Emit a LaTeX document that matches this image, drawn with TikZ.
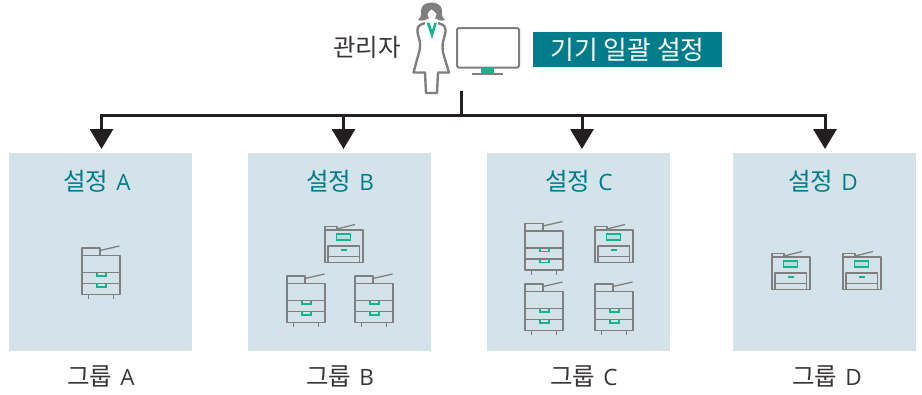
\documentclass[tikz,border=0pt]{standalone}
\usepackage{fontspec}
\setmainfont{Open Sans}
\newfontfamily\cjk{Noto Sans CJK KR}
\usetikzlibrary{arrows.meta}
\definecolor{teal}{HTML}{007C8A}
\definecolor{panelc}{HTML}{D4E2E9}
\definecolor{grn}{HTML}{14B48E}
\definecolor{gry}{HTML}{7F7F7F}
\definecolor{ink}{HTML}{231F20}
\newcommand{\krlat}[2]{{\fontsize{24.5}{26}\selectfont\cjk #1}\hspace{8pt}{\fontsize{22.5}{26}\selectfont #2}}
\tikzset{
  x=1pt,y=-1pt,
  panel/.style={fill=panelc,minimum width=183pt,minimum height=198pt,inner sep=0pt,outer sep=0pt},
  hdr/.style={text=teal,inner sep=0pt},
  lbl/.style={text=ink!90,inner sep=0pt},
  wire/.style={draw=ink,line width=3pt},
  arr/.style={wire,-{Triangle[width=23pt,length=20pt]}},
  dev/.style={draw=gry,line width=1.7pt,line join=round},
  acc/.style={draw=grn,line width=1.5pt},
  tallprinter/.pic={
    \draw[dev] (0,0) rectangle (38,39);
    \draw[dev] (0,0) -- (0,-7.5) -- (18,-7.5) -- (18,0);
    \draw[dev,line width=1.3pt] (18,-5) -- (37.5,-9.5);
    \draw[dev] (0,17) -- (38,17) (0,28) -- (38,28);
    \draw[acc] (15,17) -- (15,20.5) -- (24,20.5) -- (24,17);
    \draw[acc] (15,28) -- (15,31.5) -- (24,31.5) -- (24,28);
    \draw[dev] (6.5,39) -- (6.5,43.5) (31.5,39) -- (31.5,43.5);
  },
  smallprinter/.pic={
    \draw[dev] (0,0) rectangle (38,32.5);
    \draw[dev] (0,0) -- (0,-3.5) -- (12,-3.5) -- (12,0);
    \draw[dev,line width=1.3pt] (12,-1) -- (30,-5.5);
    \draw[acc,fill=panelc!88!grn] (11.5,4) rectangle (25.5,10);
    \draw[dev] (3,32.5) -- (3,16) -- (34.5,16) -- (34.5,32.5) (3,26.5) -- (34.5,26.5);
    \draw[grn,line width=1.5pt] (15.5,20) -- (21.5,20);
  }
}
\begin{document}
\begin{tikzpicture}
\useasboundingbox (0,0) rectangle (922,394);
% panels
\node[panel,anchor=north west] (pa) at (9,153) {};
\node[panel,anchor=north west] (pb) at (248,153) {};
\node[panel,anchor=north west] (pc) at (487,153) {};
\node[panel,anchor=north west] (pd) at (733,153) {};
\node[hdr] (ha) at (97,181) {\krlat{설정}{A}};
\node[hdr] (hb) at (340,181) {\krlat{설정}{B}};
\node[hdr] (hc) at (579,181) {\krlat{설정}{C}};
\node[hdr] (hd) at (823,181) {\krlat{설정}{D}};
\node[lbl] (la) at (101,376) {\krlat{그룹}{A}};
\node[lbl] (lb) at (340,376) {\krlat{그룹}{B}};
\node[lbl] (lc) at (584,376) {\krlat{그룹}{C}};
\node[lbl] (ld) at (827,376) {\krlat{그룹}{D}};
% printers
\pic at (82,255.5) {tallprinter};
\pic at (325,230) {smallprinter};
\pic at (287,283.5) {tallprinter};
\pic at (355,283.5) {tallprinter};
\pic at (525,231) {tallprinter};
\pic at (525,291.5) {tallprinter};
\pic at (595,230) {smallprinter};
\pic at (595,291.5) {tallprinter};
\pic at (772,257) {smallprinter};
\pic at (843,257) {smallprinter};
% top
\node[lbl,font=\fontsize{24.5}{26}\selectfont\cjk] (admin) at (367,47.5) {관리자};
\fill[gry] (418,20) .. controls (421,18) and (421.5,14) .. (421,10) .. controls (422,0) and (441,0) .. (442,10) .. controls (441.5,14) and (442,18) .. (445,20) .. controls (441,21.5) and (438,20) .. (436,18.5) -- (428,18.5) .. controls (426,20) and (422,21.5) .. (418,20) -- cycle;
\fill[white] (427.5,14) .. controls (428.5,12) and (430,11) .. (431.5,9.5) .. controls (433,11) and (435.5,12) .. (436.5,14) .. controls (436.5,17) and (434.5,20) .. (432,20) .. controls (429.5,20) and (427.5,17) .. (427.5,14) -- cycle;
\draw[gry,line width=2.4pt,line join=round] (425,23) -- (420,25) .. controls (416.5,27) and (417,33) .. (419,38) .. controls (421,44) and (420,50) .. (418,56) -- (413.5,72.5) -- (425,72.5) -- (426,93) -- (437,93) -- (438,72.5) -- (449,72.5) -- (444,56) .. controls (442,50) and (442,44) .. (444,38) .. controls (446,33) and (446.5,27) .. (443,25) -- (438,23);
\fill[grn] (426.5,22.5) -- (432,39) -- (437,22.5) -- (434.5,22.5) -- (432,30) -- (429.5,22.5) -- cycle;
\node[draw=gry,line width=2pt,rounded corners=1.5pt,minimum width=62pt,minimum height=39.5pt,inner sep=0pt,anchor=north west] (monitor) at (456,27) {};
\fill[grn] (481,67) rectangle (494,73);
\draw[gry,line width=1.6pt] (472,74) -- (503,74);
\node[fill=teal,text=white,font=\fontsize{25.8}{27}\selectfont\cjk,minimum width=189pt,minimum height=35pt,inner sep=0pt,anchor=north west] (bulk) at (533,32) {기기 일괄 설정};
% connectors
\coordinate (src) at (461,91);
\coordinate (hub) at (461,115.5);
\coordinate (ta) at (101.5,149);
\coordinate (tb) at (343.5,149);
\coordinate (tc) at (582,149);
\coordinate (td) at (825,149);
\draw[wire] (src) -- (hub);
\draw[arr] (hub) -| (ta);
\draw[arr] (hub) -| (tb);
\draw[arr] (hub) -| (tc);
\draw[arr] (hub) -| (td);
\end{tikzpicture}
\end{document}
